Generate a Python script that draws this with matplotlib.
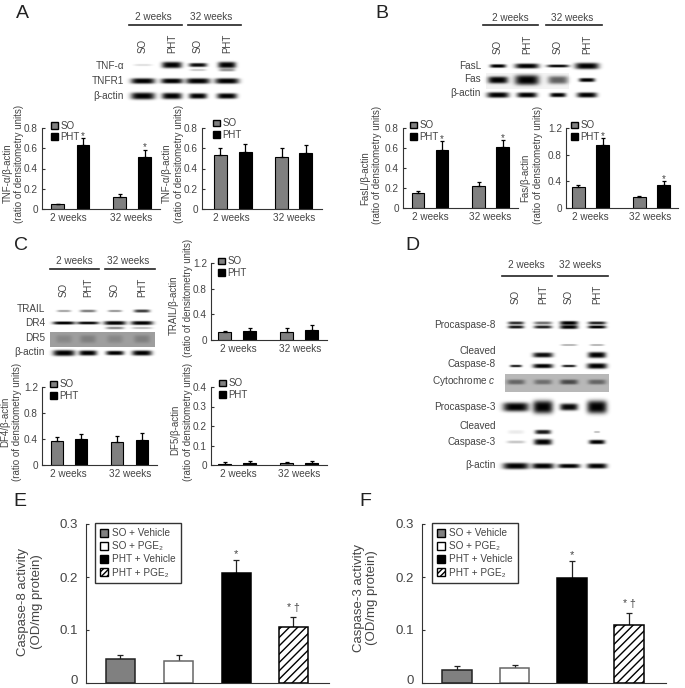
import numpy as np
import matplotlib
matplotlib.use('Agg')
import matplotlib.pyplot as plt
from matplotlib.patches import Patch
from matplotlib.transforms import ScaledTranslation

plt.rcParams['font.family'] = ['Liberation Sans', 'DejaVu Sans']
plt.rcParams['mathtext.fontset'] = 'custom'
plt.rcParams['mathtext.rm'] = 'Liberation Sans'
plt.rcParams['mathtext.it'] = 'Liberation Sans:italic'
plt.rcParams['mathtext.default'] = 'regular'
plt.rcParams['hatch.linewidth'] = 1.0

W, H = 685, 688
TXT = '#444444'

# ---- data ----
timepoints = ['2 weeks', '32 weeks']
groups_time = ['SO', 'PHT']
tnf_so, tnf_pht = [0.045, 0.12], [0.63, 0.515]
tnf_so_err, tnf_pht_err = [0.008, 0.03], [0.07, 0.07]
tnfr_so, tnfr_pht = [0.53, 0.515], [0.56, 0.555]
tnfr_so_err, tnfr_pht_err = [0.07, 0.085], [0.08, 0.075]
fasl_so, fasl_pht = [0.15, 0.225], [0.58, 0.61]
fasl_so_err, fasl_pht_err = [0.02, 0.04], [0.09, 0.07]
fas_so, fas_pht = [0.32, 0.165], [0.94, 0.345]
fas_so_err, fas_pht_err = [0.02, 0.02], [0.11, 0.055]
trail_so, trail_pht = [0.12, 0.13], [0.14, 0.16]
trail_so_err, trail_pht_err = [0.025, 0.06], [0.04, 0.07]
dr4_so, dr4_pht = [0.37, 0.355], [0.40, 0.38]
dr4_so_err, dr4_pht_err = [0.06, 0.085], [0.07, 0.12]
dr5_so, dr5_pht = [0.007, 0.01], [0.012, 0.012]
dr5_so_err, dr5_pht_err = [0.008, 0.006], [0.01, 0.006]

treatments = ['SO + Vehicle', 'SO + PGE₂', 'PHT + Vehicle', 'PHT + PGE₂']
casp8 = [0.045, 0.042, 0.208, 0.106]
casp8_err = [0.008, 0.011, 0.024, 0.019]
casp3 = [0.025, 0.028, 0.198, 0.110]
casp3_err = [0.008, 0.006, 0.032, 0.022]

fig = plt.figure(figsize=(W / 100, H / 100), dpi=100)
bg = fig.add_axes([0, 0, 1, 1], zorder=0)
bg.set_xlim(0, W)
bg.set_ylim(H, 0)
bg.axis('off')

# ---- blot canvas ----
yy, xx = np.mgrid[0:H, 0:W]
canvas = np.ones((H, W))


def band(xc, yc, hw, hh, s=1.0):
    global canvas
    d = np.exp(-np.abs((xx + .5 - xc) / hw) ** 4 - np.abs((yy + .5 - yc) / hh) ** 3)
    canvas *= 1 - s * d


def row(lanes, yc, strengths, hws, hhs):
    for x, s, w, h in zip(lanes, strengths, hws, hhs):
        if s > 0:
            band(x, yc, w, h, s)


def patch_bg(x0, x1, y0, y1, level):
    global canvas
    mask = (xx >= x0) & (xx <= x1) & (yy >= y0) & (yy <= y1)
    canvas[mask] *= level


LA = [143, 172, 198, 227]
row(LA, 65, [.12, 1, .95, 1], [9, 10, 9, 9], [1.2, 3.2, 2, 3.2])
row(LA, 70, [0, 0, .2, .4], [9, 10, 8, 8], [1, 1, 1.2, 1.5])
row(LA, 81, [1, 1, 1, 1], [12, 11, 12, 12], [2.8, 2.6, 2.8, 2.8])
row(LA, 96, [1, 1, 1, 1], [12, 10, 9, 10], [3.5, 3.2, 2.8, 2.8])
LB = [498, 527, 558, 587]
row(LB, 66, [1, 1, .95, 1], [8, 12, 11, 12], [1.8, 2.5, 1.5, 3.2])
patch_bg(486, 568, 73, 88, .95)
row(LB, 80, [1, 1, .6, 1], [10, 12, 10, 8], [3.5, 5, 4, 2])
row(LB, 95, [1, 1, 1, 1], [11, 10, 8, 10], [2.8, 2.6, 2.2, 2.6])
LC = [64, 88, 115, 142]
row(LC, 311, [.35, .5, .4, .75], [7, 8, 7, 8], [1.2, 1.4, 1.2, 1.6])
row(LC, 323, [1, .95, 1, 1], [11, 11, 11, 11], [1.6, 1.5, 2, 2])
row(LC, 328, [0, 0, .45, .25], [0, 0, 9, 10], [1, 1, 1.4, 1.2])
patch_bg(50, 154, 332, 346, .62)
row(LC, 339, [.15, .2, .15, .2], [8, 8, 8, 8], [4, 4, 4, 4])
row(LC, 353, [1, 1, 1, 1], [11, 9, 9, 10], [3, 2.6, 2.2, 2.6])
LD = [516, 543, 569, 597]
row(LD, 323, [.8, .55, 1, .85], [8, 9, 9, 9], [1.6, 1.6, 2, 1.6])
row(LD, 327, [.9, .85, 1, 1], [8, 9, 9, 9], [1.6, 1.6, 2, 1.6])
row(LD, 345, [0, 0, .3, .3], [0, 0, 8, 7], [1, 1, 1, 1])
row(LD, 355, [0, .95, 0, 1], [8, 10, 8, 9], [0, 2.5, 0, 3])
row(LD, 366, [.85, 1, .85, 1], [6, 10, 7, 10], [1.3, 2.2, 1.3, 2.8])
patch_bg(505, 608, 374, 391, .72)
row(LD, 382, [.45, .4, .6, .45], [9, 9, 9, 9], [2.5, 2.5, 2.5, 2.5])
row(LD, 407, [1, 1, .98, 1], [13, 10, 9, 10], [4.5, 6.5, 3.5, 6.5])
row(LD, 432, [.08, .9, 0, .25], [8, 8, 6, 3], [2, 2.2, 1, 1])
row(LD, 442, [.22, 1, 0, 1], [9, 9, 6, 8], [1.5, 3, 1, 2.2])
row(LD, 466, [1, 1, 1, 1], [13, 11, 11, 10], [3.2, 2.8, 2.2, 2.6])
bg.imshow(canvas, cmap='gray', vmin=0, vmax=1, extent=(0, W, H, 0),
          aspect='auto', interpolation='bilinear', zorder=0)
bg.set_xlim(0, W)
bg.set_ylim(H, 0)


def put(x, y, s, **kw):
    kw.setdefault('color', TXT)
    kw.setdefault('ha', 'center')
    kw.setdefault('va', 'center')
    return bg.text(x, y, s, **kw)


def header(lanes, c1, c2, ty, ly, l1, l2, fs=7.2, sy=None):
    put(c1, ty, timepoints[0], fontsize=fs)
    put(c2, ty, timepoints[1], fontsize=fs)
    bg.plot(l1, [ly, ly], color='#222222', lw=1.2)
    bg.plot(l2, [ly, ly], color='#222222', lw=1.2)
    for x, s in zip(lanes, groups_time * 2):
        put(x, sy, s, rotation=90, fontsize=7, va='bottom')


def labels(items, x, fs=7.2):
    for y, s in items:
        put(x, y, s, ha='right', fontsize=fs)


def make_ax(x0, x1, ytop, ybot, ymax, yticks, yticklabels, fs=7.2):
    ax = fig.add_axes([x0 / W, 1 - ybot / H, (x1 - x0) / W, (ybot - ytop) / H], zorder=2)
    ax.patch.set_alpha(0)
    ax.set_xlim(x0, x1)
    ax.set_ylim(0, ymax)
    for s in ('top', 'right'):
        ax.spines[s].set_visible(False)
    for s in ('left', 'bottom'):
        ax.spines[s].set_linewidth(0.8)
        ax.spines[s].set_color('#333333')
    ax.set_yticks(yticks, yticklabels)
    ax.tick_params(axis='y', direction='in', length=2.5, width=0.8, labelsize=fs,
                   labelcolor=TXT, pad=3, color='#333333')
    ax.tick_params(axis='x', length=0, labelsize=fs, labelcolor=TXT, pad=3)
    return ax


def time_panel(box, ymax, yticks, yticklabels, so, pht, so_err, pht_err, xs, w,
               label_x, leg_xy, stars=False):
    ax = make_ax(*box, ymax, yticks, yticklabels)
    vals = [so[0], pht[0], so[1], pht[1]]
    errs = [so_err[0], pht_err[0], so_err[1], pht_err[1]]
    cols = ['#808080', 'black', '#808080', 'black']
    ax.bar(xs, vals, width=w, color=cols, edgecolor='black', linewidth=0.8,
           yerr=[[0] * 4, errs], ecolor='black',
           error_kw=dict(lw=0.9, capsize=1.5, capthick=0.9), zorder=2)
    ax.set_xticks(label_x, timepoints)
    if stars:
        for i in (1, 3):
            ax.text(xs[i], vals[i] + errs[i] + 0.03 * ymax, '*', color=TXT,
                    ha='center', va='center', fontsize=7)
    ax.legend(handles=[Patch(facecolor='#808080', edgecolor='black', label=groups_time[0]),
                       Patch(facecolor='black', edgecolor='black', label=groups_time[1])],
              loc='center left', bbox_to_anchor=leg_xy, bbox_transform=bg.transData,
              frameon=False, fontsize=7, handlelength=0.7, handleheight=0.7,
              handletextpad=0.25, labelspacing=0.12, borderpad=0, borderaxespad=0,
              labelcolor=TXT)
    return ax


def treat_panel(box, vals, errs, xs, w, leg_box):
    ax = make_ax(*box, 0.3, [0, 0.1, 0.2, 0.3], ['0', '0.1', '0.2', '0.3'], fs=9.5)
    ax.tick_params(axis='y', pad=6)
    ax.tick_params(axis='x', length=0, labelbottom=False)
    faces = ['#808080', 'white', 'black', 'white']
    edges = ['#222222', '#666666', 'black', 'black']
    for x, v, e, fc, ec, h in zip(xs, vals, errs, faces, edges, [None, None, None, '////']):
        ax.bar(x, v, width=w, color=fc, edgecolor=ec, linewidth=1.1, hatch=h, zorder=2)
        ax.errorbar(x, v, yerr=[[0], [e]], color='#222222', lw=0.9, capsize=2.5,
                    capthick=0.9, zorder=1)
    ax.set_xticks([])
    lab0 = ax.get_yticklabels()[0]
    lab0.set_transform(lab0.get_transform() + ScaledTranslation(0, 3 / 100, fig.dpi_scale_trans))
    hs = [Patch(facecolor=fc, edgecolor='black', hatch=h, label=t)
          for fc, h, t in zip(faces, [None, None, None, '//////'], treatments)]
    leg = ax.legend(handles=hs, loc='upper left', bbox_to_anchor=leg_box,
                    bbox_transform=bg.transData, frameon=True, fancybox=False,
                    edgecolor='#333333', framealpha=1, fontsize=7.2, handlelength=0.85,
                    handleheight=0.85, handletextpad=0.35, labelspacing=0.32,
                    borderpad=0.5, borderaxespad=0, labelcolor=TXT)
    leg.get_frame().set_linewidth(1.0)
    ax.text(xs[2], vals[2] + errs[2] + 0.012, '*', color=TXT, ha='center', va='center', fontsize=8)
    ax.text(xs[3], vals[3] + errs[3] + 0.017, '* †', color=TXT, ha='center', va='center', fontsize=7.5)
    return ax


# ---- panels ----
time_panel((42, 160, 128, 209), 0.8, [0, .2, .4, .6, .8], ['0', '0.2', '0.4', '0.6', '0.8'],
           tnf_so, tnf_pht, tnf_so_err, tnf_pht_err, [57.5, 83, 119.5, 144.5], 12.5,
           [68, 131], (51, 131.5), stars=True)
time_panel((202, 322, 128, 209), 0.8, [0, .2, .4, .6, .8], ['0', '0.2', '0.4', '0.6', '0.8'],
           tnfr_so, tnfr_pht, tnfr_so_err, tnfr_pht_err, [220, 245, 281.5, 305.5], 13,
           [231, 294], (213, 129))
time_panel((403, 518, 128, 208), 0.8, [0, .2, .4, .6, .8], ['0', '0.2', '0.4', '0.6', '0.8'],
           fasl_so, fasl_pht, fasl_so_err, fasl_pht_err, [418, 442, 478.5, 502.5], 12.5,
           [430, 490], (410, 131), stars=True)
time_panel((566, 678, 128, 208), 1.2, [0, .4, .8, 1.2], ['0', '0.4', '0.8', '1.2'],
           fas_so, fas_pht, fas_so_err, fas_pht_err, [578, 602.5, 639, 663.5], 13,
           [590, 650], (571, 131), stars=True)
time_panel((211, 327, 263, 340), 1.2, [0, .4, .8, 1.2], ['0', '0.4', '0.8', '1.2'],
           trail_so, trail_pht, trail_so_err, trail_pht_err, [224.5, 249.5, 286.5, 311.5], 13,
           [238, 300], (218, 267))
time_panel((42, 157, 387, 465), 1.2, [0, .4, .8, 1.2], ['0', '0.4', '0.8', '1.2'],
           dr4_so, dr4_pht, dr4_so_err, dr4_pht_err, [57, 81, 117, 142], 12.5,
           [68, 130], (50, 390))
time_panel((211, 327, 387, 465), 0.4, [0, .1, .2, .3, .4], ['0', '0.1', '0.2', '0.3', '0.4'],
           dr5_so, dr5_pht, dr5_so_err, dr5_pht_err, [224.5, 249.5, 286.5, 311.5], 13,
           [238, 299], (219, 389))

treat_panel((86, 329, 524, 683), casp8, casp8_err, [120.5, 178.5, 236, 293], 29, (95, 523))
treat_panel((422, 666, 524, 683), casp3, casp3_err, [457, 514.5, 572, 629], 29.5, (432, 523))

# ---- headers & blot labels ----
header(LA, 153, 211, 17, 25, [129, 182], [188, 241], sy=53)
labels([(66, 'TNF-α'), (81, 'TNFR1'), (96, 'β-actin')], 124)
header(LB, 510, 572, 18, 25, [483, 538], [546, 602], sy=54)
labels([(66, 'FasL'), (79, 'Fas'), (93, 'β-actin')], 481)
header(LC, 74, 128, 261, 269, [50, 99], [105, 155], sy=297)
labels([(309, 'TRAIL'), (323, 'DR4'), (338, 'DR5'), (352, 'β-actin')], 45)
header(LD, 526, 580, 265, 276, [502, 552], [558, 608], sy=304)
labels([(325, 'Procaspase-8'), (351, 'Cleaved'), (364, 'Caspase-8'),
        (381, 'Cytochrome $\\mathit{c}$'), (407, 'Procaspase-3'), (426, 'Cleaved'),
        (442, 'Caspase-3'), (465, 'β-actin')], 496)

# ---- y labels (each line placed by hand) ----
ylines = [
    (8, 173, 'TNF-α/β-actin', 7), (19, 164, '(ratio of densitometry units)', 7),
    (167, 173, 'TNF-α/β-actin', 7), (179, 164, '(ratio of densitometry units)', 7),
    (365, 178, 'FasL/β-actin', 7), (377, 165, '(ratio of densitometry units)', 7),
    (525, 178, 'Fas/β-actin', 7), (538, 165, '(ratio of densitometry units)', 7),
    (174, 305, 'TRAIL/β-actin', 7), (188, 298, '(ratio of densitometry units)', 7),
    (5, 422, 'DF4/β-actin', 7), (17, 422, '(ratio of densitometry units)', 7),
    (175, 430, 'DF5/β-actin', 7), (188, 422, '(ratio of densitometry units)', 7),
    (23, 602, 'Caspase-8 activity', 9.5), (37, 602, '(OD/mg protein)', 9.5),
    (359, 598, 'Caspase-3 activity', 9.5), (372, 598, '(OD/mg protein)', 9.5),
]
for x, y, s, fs in ylines:
    put(x, y, s, rotation=90, fontsize=fs)

for x, y, s in [(22, 14, 'A'), (382, 14, 'B'), (21, 246, 'C'), (412, 246, 'D'),
                (20, 501, 'E'), (365, 501, 'F')]:
    put(x, y, s, fontsize=14, color='#222222')

fig.savefig('out.png', dpi=100)
